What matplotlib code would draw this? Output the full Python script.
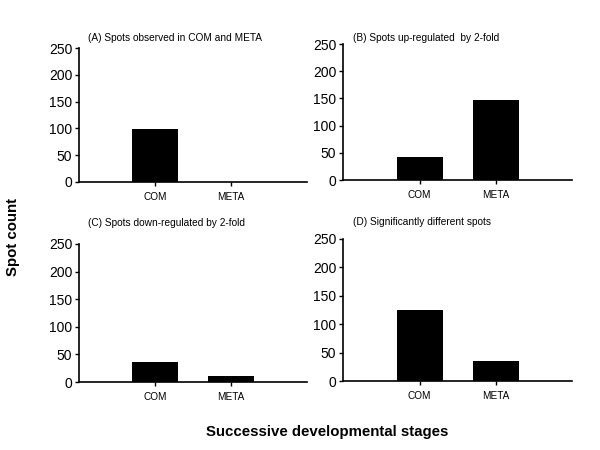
import matplotlib
matplotlib.use('Agg')
import matplotlib.pyplot as plt

plt.rcParams['font.family'] = ['Liberation Sans', 'DejaVu Sans']

stages = ['COM', 'META']
observed = [98, 0]
up_regulated = [43, 148]
down_regulated = [37, 11]
significant = [125, 35]

titles = ['(A) Spots observed in COM and META',
          '(B) Spots up-regulated  by 2-fold',
          '(C) Spots down-regulated by 2-fold',
          '(D) Significantly different spots']
series = [observed, up_regulated, down_regulated, significant]

# axes boxes in figure fractions (left, bottom, width, height)
boxes = [(0.132, 0.596, 0.380, 0.297),
         (0.572, 0.600, 0.382, 0.302),
         (0.132, 0.151, 0.380, 0.307),
         (0.572, 0.153, 0.382, 0.316)]
title_pos = [(0.147, 0.916), (0.588, 0.916), (0.147, 0.504), (0.588, 0.507)]

fig = plt.figure(figsize=(6, 4.5), dpi=100)

for box, vals, title, tp in zip(boxes, series, titles, title_pos):
    ax = fig.add_axes(box)
    x = [1, 2]
    ax.bar(x, vals, width=0.6, color='black')
    ax.set_xlim(0, 3)
    ax.set_ylim(0, 250)
    ax.set_yticks([0, 50, 100, 150, 200, 250])
    ax.set_xticks(x)
    ax.set_xticklabels(stages, fontsize=7.2)
    ax.tick_params(axis='y', labelsize=10, length=3, width=1, pad=2)
    ax.tick_params(axis='x', length=3, width=1, pad=4)
    for s in ['top', 'right']:
        ax.spines[s].set_visible(False)
    for s in ['left', 'bottom']:
        ax.spines[s].set_linewidth(1.2)
    fig.text(tp[0], tp[1], title, fontsize=7.3, ha='left', va='center')

fig.text(0.021, 0.473, 'Spot count', rotation=90, fontsize=10.8,
         fontweight='bold', ha='center', va='center')
fig.text(0.545, 0.04, 'Successive developmental stages', fontsize=10.8,
         fontweight='bold', ha='center', va='center')

fig.savefig('out.png', dpi=100)
